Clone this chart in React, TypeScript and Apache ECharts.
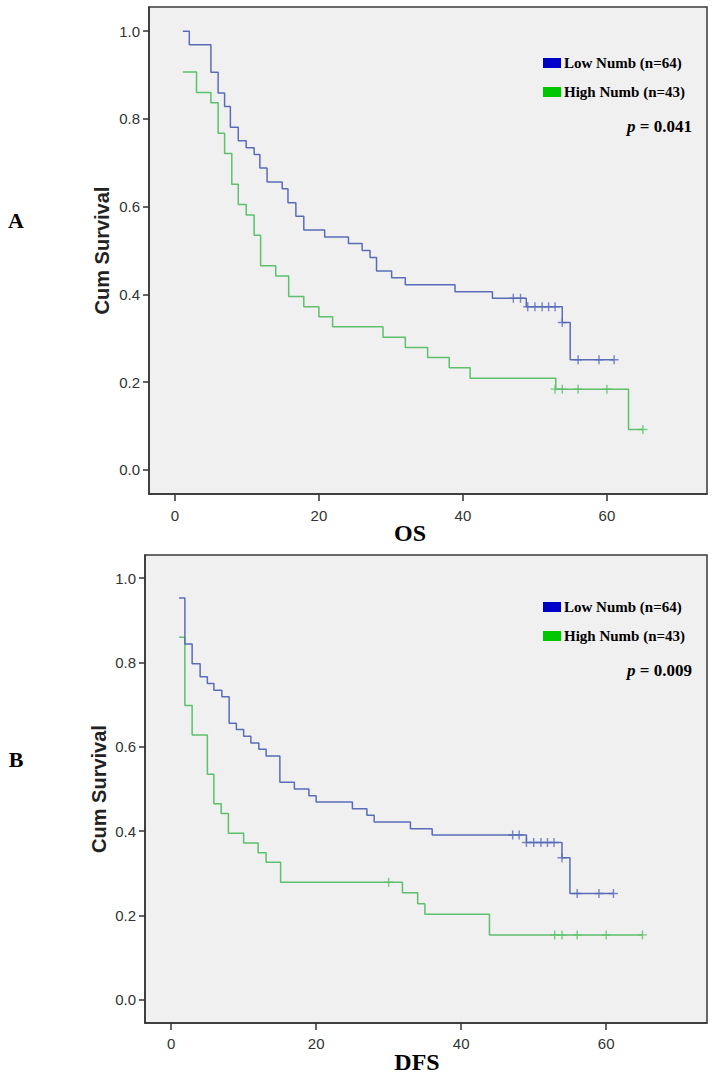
import React, { useEffect, useRef } from 'react';
import * as echarts from 'echarts';

const xTicks = [0, 20, 40, 60];
const yTicks = [0, 0.2, 0.4, 0.6, 0.8, 1.0];
const groupNames = ['Low Numb (n=64)', 'High Numb (n=43)'];
const panelLabels = ['A', 'B'];
const xTitles = ['OS', 'DFS'];
const pValues = ['0.041', '0.009'];

// OS – Kaplan-Meier steps [time, survival after event]
const osLow = [
  [1.1, 1.0], [2.0, 0.969], [5.0, 0.906], [6.0, 0.859], [6.9, 0.828], [7.7, 0.781],
  [8.8, 0.75], [9.9, 0.734], [11.0, 0.719], [11.8, 0.688], [12.8, 0.656], [14.9, 0.641],
  [15.7, 0.609], [16.8, 0.578], [17.9, 0.547], [20.8, 0.531], [24.1, 0.516], [26.0, 0.5],
  [27.1, 0.484], [28.0, 0.453], [30.1, 0.438], [32.0, 0.422], [38.9, 0.406], [44.1, 0.391],
  [48.8, 0.372], [53.8, 0.336], [54.9, 0.251], [61.0, 0.251],
];
const osLowCensored = [
  [47.0, 0.391], [48.0, 0.391], [49.0, 0.372], [50.0, 0.372], [51.0, 0.372], [51.9, 0.372],
  [52.8, 0.372], [53.8, 0.336], [56.0, 0.251], [58.9, 0.251], [61.0, 0.251],
];
const osHigh = [
  [1.1, 0.907], [3.0, 0.86], [5.0, 0.837], [6.0, 0.767], [6.9, 0.721], [7.9, 0.651],
  [8.8, 0.605], [9.9, 0.581], [11.0, 0.535], [11.9, 0.465], [14.0, 0.442], [15.8, 0.395],
  [17.9, 0.372], [20.0, 0.349], [21.9, 0.326], [28.9, 0.302], [32.0, 0.279], [35.1, 0.256],
  [38.1, 0.233], [41.0, 0.209], [52.9, 0.184], [63.0, 0.092], [65.0, 0.092],
];
const osHighCensored = [
  [52.8, 0.184], [53.8, 0.184], [56.0, 0.184], [60.0, 0.184], [65.0, 0.092],
];

// DFS
const dfsLow = [
  [1.1, 0.953], [1.9, 0.844], [2.9, 0.797], [4.0, 0.766], [5.0, 0.75], [5.9, 0.734],
  [7.0, 0.719], [8.0, 0.656], [9.0, 0.641], [10.0, 0.625], [11.0, 0.609], [12.1, 0.594],
  [13.1, 0.578], [15.0, 0.516], [17.0, 0.5], [19.0, 0.484], [20.0, 0.469], [25.0, 0.453],
  [27.0, 0.438], [28.0, 0.422], [33.0, 0.406], [36.0, 0.391], [49.0, 0.373], [53.9, 0.337],
  [55.0, 0.252], [61.0, 0.252],
];
const dfsLowCensored = [
  [47.1, 0.391], [48.0, 0.391], [49.0, 0.373], [50.0, 0.373], [51.0, 0.373], [51.9, 0.373],
  [52.8, 0.373], [53.9, 0.337], [56.0, 0.252], [59.0, 0.252], [61.0, 0.252],
];
const dfsHigh = [
  [1.1, 0.86], [1.9, 0.698], [2.9, 0.628], [5.0, 0.535], [5.9, 0.465], [6.9, 0.442],
  [7.9, 0.395], [10.0, 0.372], [12.0, 0.349], [13.1, 0.326], [15.1, 0.279], [31.9, 0.254],
  [34.0, 0.228], [35.0, 0.203], [43.9, 0.154], [65.0, 0.154],
];
const dfsHighCensored = [
  [30.0, 0.279], [52.9, 0.154], [53.9, 0.154], [56.0, 0.154], [60.0, 0.154], [65.0, 0.154],
];

const panels = [
  { low: osLow, lowC: osLowCensored, high: osHigh, highC: osHighCensored },
  { low: dfsLow, lowC: dfsLowCensored, high: dfsHigh, highC: dfsHighCensored },
];

const BLUE_LINE = '#5a6cb8';
const GREEN_LINE = '#5cc06c';
const BLUE_KEY = '#0000c8';
const GREEN_KEY = '#00c800';
const PLUS = 'path://M4.2,0H5.8V4.2H10V5.8H5.8V10H4.2V5.8H0V4.2H4.2Z';

const layouts = [
  { left: 149, top: 7, width: 558, height: 487, labelMargin: 14, panelY: 220, cumX: 102, titleX: 410, titleY: 533, legY: 58 },
  { left: 145, top: 555, width: 562, height: 468, labelMargin: 13, panelY: 759, cumX: 99, titleX: 417, titleY: 1062, legY: 602 },
];

export default function App() {
  const ref = useRef<HTMLDivElement>(null);
  useEffect(() => {
    document.body.style.margin = '0';
    const chart = echarts.init(ref.current!, undefined, { renderer: 'svg' });
    const axisColor = '#333';
    const grids = layouts.map((l) => ({
      left: l.left, top: l.top, width: l.width, height: l.height,
      show: true, backgroundColor: '#f0f0f0', borderColor: '#3a3a3a', borderWidth: 1.5,
    }));
    const xAxes = layouts.map((l, i) => ({
      type: 'value', gridIndex: i, min: -3.6, max: 73.9,
      axisLine: { show: true, onZero: false, lineStyle: { color: axisColor, width: 1.5 } },
      axisTick: { show: true, customValues: xTicks, length: 7, lineStyle: { color: axisColor, width: 1.5 } },
      axisLabel: { customValues: xTicks, margin: l.labelMargin, fontSize: 15, color: '#333', fontFamily: 'Liberation Sans' },
      splitLine: { show: false },
    }));
    const yAxes = layouts.map((l, i) => ({
      type: 'value', gridIndex: i, min: -0.055, max: 1.055,
      axisLine: { show: true, onZero: false, lineStyle: { color: axisColor, width: 1.5 } },
      axisTick: { show: true, customValues: yTicks, length: 6, lineStyle: { color: axisColor, width: 1.5 } },
      axisLabel: { customValues: yTicks, margin: 9, fontSize: 15, color: '#333', fontFamily: 'Liberation Sans',
        formatter: (v: number) => v.toFixed(1) },
      splitLine: { show: false },
    }));
    const series: any[] = [];
    panels.forEach((p, i) => {
      const common = { xAxisIndex: i, yAxisIndex: i, silent: true };
      series.push({ ...common, type: 'line', name: groupNames[0], data: p.low, step: 'end', showSymbol: false,
        lineStyle: { color: BLUE_LINE, width: 1.5 }, z: 3 });
      series.push({ ...common, type: 'line', name: groupNames[1], data: p.high, step: 'end', showSymbol: false,
        lineStyle: { color: GREEN_LINE, width: 1.5 }, z: 2 });
      series.push({ ...common, type: 'scatter', data: p.lowC, symbol: PLUS, symbolSize: 9,
        itemStyle: { color: BLUE_LINE }, z: 4 });
      series.push({ ...common, type: 'scatter', data: p.highC, symbol: PLUS, symbolSize: 9,
        itemStyle: { color: GREEN_LINE }, z: 4 });
    });
    const graphic: any[] = [];
    layouts.forEach((l, i) => {
      const plotCenterY = l.top + l.height / 2;
      graphic.push({ type: 'text', x: 16, y: l.panelY, style: { text: panelLabels[i], font: 'bold 22px "Liberation Serif"', fill: '#000', align: 'center', verticalAlign: 'middle', textAlign: 'center', textVerticalAlign: 'middle' } });
      graphic.push({ type: 'text', x: l.cumX, y: plotCenterY, rotation: Math.PI / 2, style: { text: 'Cum Survival', font: 'bold 20px "Liberation Sans"', fill: '#222', align: 'center', verticalAlign: 'middle', textAlign: 'center', textVerticalAlign: 'middle' } });
      graphic.push({ type: 'text', x: l.titleX, y: l.titleY, style: { text: xTitles[i], font: 'bold 24px "Liberation Serif"', fill: '#000', align: 'center', verticalAlign: 'middle', textAlign: 'center', textVerticalAlign: 'middle' } });
      graphic.push({ type: 'rect', shape: { x: 543, y: l.legY, width: 18, height: 10 }, style: { fill: BLUE_KEY } });
      graphic.push({ type: 'rect', shape: { x: 543, y: l.legY + 29, width: 18, height: 10 }, style: { fill: GREEN_KEY } });
      graphic.push({ type: 'text', x: 564, y: l.legY + 5, style: { text: groupNames[0], font: 'bold 15px "Liberation Serif"', fill: '#000', align: 'left', verticalAlign: 'middle', textAlign: 'left', textVerticalAlign: 'middle' } });
      graphic.push({ type: 'text', x: 564, y: l.legY + 34, style: { text: groupNames[1], font: 'bold 15px "Liberation Serif"', fill: '#000', align: 'left', verticalAlign: 'middle', textAlign: 'left', textVerticalAlign: 'middle' } });
      graphic.push({ type: 'text', x: 692, y: l.legY + 68, style: {
        text: '{i|p}{b| = ' + pValues[i] + '}', align: 'right', verticalAlign: 'middle', textAlign: 'right', textVerticalAlign: 'middle',
        rich: {
          i: { fontFamily: 'Liberation Serif', fontStyle: 'italic', fontWeight: 'bold', fontSize: 17, fill: '#000', color: '#000' },
          b: { fontFamily: 'Liberation Serif', fontWeight: 'bold', fontSize: 17, fill: '#000', color: '#000' },
        } } });
    });
    chart.setOption({
      animation: false,
      backgroundColor: '#fff',
      grid: grids,
      xAxis: xAxes,
      yAxis: yAxes,
      series,
      graphic,
    });
    return () => chart.dispose();
  }, []);
  return <div ref={ref} style={{ width: 714, height: 1077 }} />;
}
